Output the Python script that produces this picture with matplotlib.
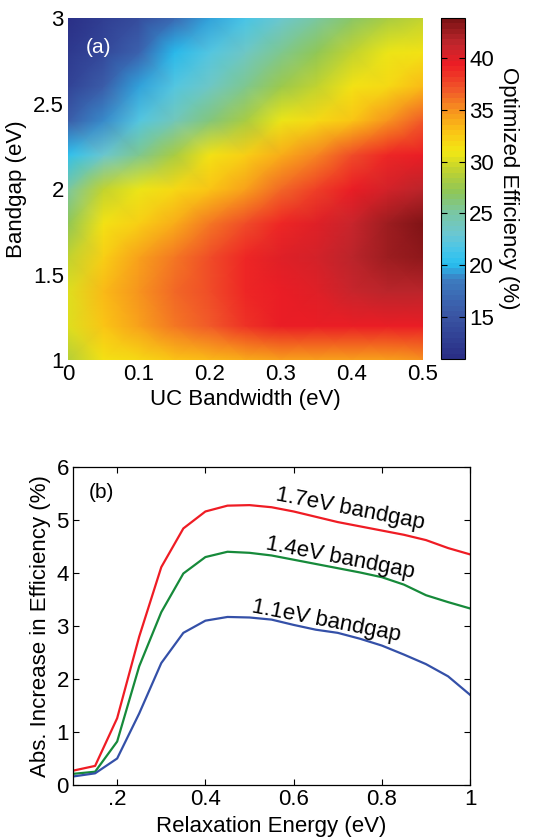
import numpy as np
import matplotlib
matplotlib.use("Agg")
import matplotlib.pyplot as plt
from matplotlib.colors import LinearSegmentedColormap

plt.rcParams['font.family'] = ['Liberation Sans', 'DejaVu Sans']

# ---- panel (a) data: optimized efficiency (%) ----
uc_bandwidth = [0.0, 0.05, 0.1, 0.15, 0.2, 0.25, 0.3, 0.35, 0.4, 0.45, 0.5]
bandgap = [1.0, 1.2, 1.4, 1.6, 1.8, 2.0, 2.2, 2.4, 2.6, 2.8, 3.0]
eff_1_0 = [28.5, 31.0, 32.0, 33.0, 33.5, 34.0, 34.5, 34.5, 34.5, 34.5, 35.0]
eff_1_2 = [30.0, 33.0, 34.5, 36.0, 37.0, 38.5, 39.5, 39.5, 39.5, 39.5, 39.5]
eff_1_4 = [30.0, 33.5, 35.0, 36.5, 37.5, 39.0, 39.5, 40.0, 41.0, 41.5, 41.5]
eff_1_6 = [29.0, 32.5, 34.5, 36.0, 37.5, 39.0, 40.0, 40.5, 41.5, 42.5, 43.0]
eff_1_8 = [27.0, 31.0, 32.5, 34.0, 36.0, 37.5, 39.0, 40.0, 41.0, 42.5, 43.5]
eff_2_0 = [25.0, 29.0, 30.5, 31.5, 33.0, 34.5, 36.5, 38.0, 39.5, 40.5, 41.5]
eff_2_2 = [20.5, 23.0, 25.5, 28.0, 31.0, 32.5, 34.0, 35.5, 37.5, 39.0, 39.5]
eff_2_4 = [16.0, 19.0, 22.0, 24.0, 26.0, 28.0, 30.5, 31.5, 33.0, 35.0, 37.0]
eff_2_6 = [13.5, 16.0, 19.5, 22.0, 23.5, 25.5, 27.5, 29.0, 31.0, 32.0, 33.5]
eff_2_8 = [12.5, 14.0, 16.5, 20.0, 22.0, 23.5, 25.5, 27.0, 29.0, 30.5, 31.0]
eff_3_0 = [11.5, 13.0, 14.5, 17.0, 19.5, 21.5, 23.0, 25.0, 26.5, 28.0, 29.0]

# ---- panel (b) data ----
relax_energy = [0.1, 0.15, 0.2, 0.25, 0.3, 0.35, 0.4, 0.45, 0.5, 0.55,
                0.6, 0.65, 0.7, 0.75, 0.8, 0.85, 0.9, 0.95, 1.0]
gain_17 = [0.27, 0.36, 1.26, 2.80, 4.11, 4.84, 5.16, 5.27, 5.28, 5.24,
           5.16, 5.06, 4.96, 4.88, 4.80, 4.72, 4.62, 4.47, 4.35]
gain_14 = [0.21, 0.25, 0.82, 2.24, 3.26, 3.99, 4.30, 4.40, 4.38, 4.33,
           4.25, 4.17, 4.09, 4.01, 3.92, 3.78, 3.58, 3.45, 3.33]
gain_11 = [0.16, 0.22, 0.50, 1.35, 2.30, 2.87, 3.10, 3.17, 3.16, 3.12,
           3.02, 2.93, 2.87, 2.76, 2.63, 2.46, 2.28, 2.05, 1.70]

# colour map of the original figure (navy -> cyan -> yellow -> red -> dark red)
vmin, vmax = 11.0, 43.8
anchors = [
    (11.0, '#2a2f86'), (15.0, '#3a55a4'), (18.5, '#3d7cc0'),
    (20.0, '#27c0f0'), (21.5, '#4ac5e8'), (23.0, '#6cc7d0'),
    (25.0, '#79c7a4'), (27.0, '#8dc65a'), (29.0, '#bbd033'),
    (31.0, '#f2e814'), (33.0, '#fbc315'), (35.0, '#f7931e'),
    (37.0, '#f15a29'), (39.5, '#ed1c24'), (41.5, '#c1272d'),
    (43.8, '#7f1416'),
]
cmap = LinearSegmentedColormap.from_list(
    'eff', [((v - vmin) / (vmax - vmin), c) for v, c in anchors], N=64)

fig = plt.figure(figsize=(5.41, 8.40), dpi=100)

# ---------------- (a) ----------------
ax1 = fig.add_axes([0.1257, 0.5714, 0.6562, 0.4071])
eff = np.array([eff_1_0, eff_1_2, eff_1_4, eff_1_6, eff_1_8, eff_2_0,
                eff_2_2, eff_2_4, eff_2_6, eff_2_8, eff_3_0])
X, Y = np.meshgrid(uc_bandwidth, bandgap)
mesh = ax1.pcolormesh(X, Y, eff, shading='gouraud', cmap=cmap,
                      vmin=vmin, vmax=vmax, rasterized=True)
ax1.set_xlim(0, 0.5)
ax1.set_ylim(1, 3)
ax1.set_xticks([0, 0.1, 0.2, 0.3, 0.4, 0.5])
ax1.set_xticklabels(['0', '0.1', '0.2', '0.3', '0.4', '0.5'])
ax1.set_yticks([1, 1.5, 2, 2.5, 3])
ax1.set_yticklabels(['1', '1.5', '2', '2.5', '3'])
ax1.tick_params(length=0, labelsize=16, pad=3)
for s in ax1.spines.values():
    s.set_visible(False)
ax1.set_xlabel('UC Bandwidth (eV)', fontsize=16, labelpad=3)
ax1.set_ylabel('Bandgap (eV)', fontsize=16, labelpad=4)
ax1.text(0.05, 0.915, '(a)', transform=ax1.transAxes, color='white',
         fontsize=15, ha='left', va='center')

cax = fig.add_axes([0.8152, 0.5726, 0.0444, 0.4059])
cb = fig.colorbar(mesh, cax=cax)
cb.set_ticks([15, 20, 25, 30, 35, 40])
cb.outline.set_linewidth(0.8)
cax.tick_params(direction='in', length=4, width=0.8, labelsize=16,
                left=True, right=True, pad=3)
cb.set_label('Optimized Efficiency (%)', fontsize=16, rotation=-90,
             labelpad=18)

# ---------------- (b) ----------------
ax2 = fig.add_axes([0.135, 0.0655, 0.734, 0.3786])
ax2.plot(relax_energy, gain_17, color='#ef1c24', lw=1.6)
ax2.plot(relax_energy, gain_14, color='#168a3a', lw=1.6)
ax2.plot(relax_energy, gain_11, color='#3450a8', lw=1.6)
ax2.set_xlim(0.1, 1)
ax2.set_ylim(0, 6)
ax2.set_xticks([0.2, 0.4, 0.6, 0.8, 1.0])
ax2.set_xticklabels(['.2', '0.4', '0.6', '0.8', '1'])
ax2.set_yticks([0, 1, 2, 3, 4, 5, 6])
ax2.tick_params(direction='in', length=4, width=0.8, labelsize=16,
                top=True, right=True, pad=3)
for s in ax2.spines.values():
    s.set_linewidth(0.9)
ax2.set_xlabel('Relaxation Energy (eV)', fontsize=16, labelpad=4)
ax2.set_ylabel('Abs. Increase in Efficiency (%)', fontsize=16, labelpad=4)
ax2.text(0.04, 0.92, '(b)', transform=ax2.transAxes, fontsize=15,
         ha='left', va='center')

ax2.text(0.728, 5.20, '1.7eV bandgap', fontsize=16, rotation=-11,
         rotation_mode='anchor', ha='center', va='center')
ax2.text(0.705, 4.28, '1.4eV bandgap', fontsize=16, rotation=-11,
         rotation_mode='anchor', ha='center', va='center')
ax2.text(0.675, 3.10, '1.1eV bandgap', fontsize=16, rotation=-11,
         rotation_mode='anchor', ha='center', va='center')

fig.savefig('out.png', dpi=100)
